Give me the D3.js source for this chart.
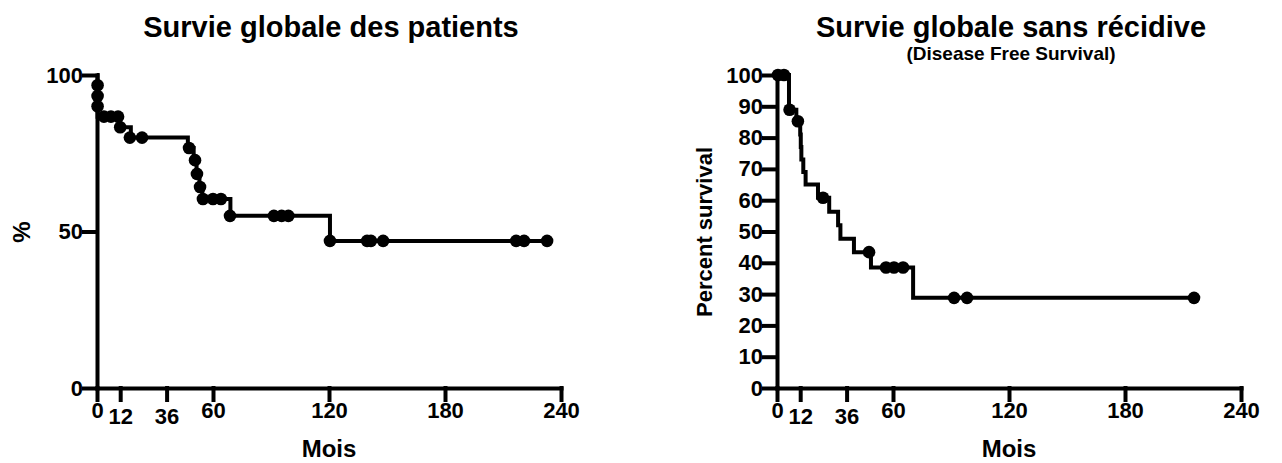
<!DOCTYPE html>
<html>
<head>
<meta charset="utf-8">
<script src="https://cdn.jsdelivr.net/npm/d3@7"></script>
<style>
body { margin: 0; background: #fff; }
text { font-family: "Liberation Sans", Arial, sans-serif; font-weight: bold; fill: #000; }
</style>
</head>
<body>
<div id="chart"></div>
<script>
// x ticks (months), shared by both panels
var monthTicks = [0, 12, 36, 60, 120, 180, 240];
var lowTicks = [12, 36]; // labels pushed down like in the original

// overall survival - step curve
var osStepT = [0, 0.3, 0.3, 0.3, 0.3, 12, 17.5, 47, 50, 51.5, 53, 54.5, 69, 120.5, 233];
var osStepS = [100, 96.7, 93.3, 90, 86.7, 83.3, 80, 76.7, 72.8, 68.4, 64.2, 60.4, 55, 47, 47];
// overall survival - symbols
var osMarkT = [0.3, 0.3, 0.3, 3.6, 7.2, 10.9, 12, 17, 23.3, 47.6, 50.7, 51.7, 53.3, 54.8, 60, 64.1, 68.8, 91.5, 95.5, 99, 120.5, 139.7, 141.7, 148, 216.8, 220.9, 232.8];
var osMarkS = [96.7, 93.3, 90, 86.7, 86.7, 86.7, 83.3, 80, 80, 76.7, 72.8, 68.4, 64.2, 60.4, 60.4, 60.4, 55, 55, 55, 55, 47, 47, 47, 47, 47, 47, 47];

// disease free survival - step curve
var dfsStepT = [0, 6.2, 10, 12, 12.3, 12.6, 13.6, 14.8, 21.2, 27, 31.6, 32.8, 39.8, 48.6, 70.4, 215.7];
var dfsStepS = [100, 88.9, 85.2, 81, 77, 73, 69, 65, 60.8, 56.3, 52, 47.7, 43.4, 38.5, 28.8, 28.8];
// disease free survival - symbols
var dfsMarkT = [0.5, 3.6, 6.5, 10.8, 23.8, 47.6, 56.4, 60.5, 65.2, 91.6, 98.3, 215.7];
var dfsMarkS = [100, 100, 88.9, 85.2, 60.8, 43.4, 38.5, 38.5, 38.5, 28.8, 28.8, 28.8];

var osYTicks = [0, 50, 100];
var dfsYTicks = [0, 10, 20, 30, 40, 50, 60, 70, 80, 90, 100];

var svg = d3.select('#chart')
 .append('svg')
 .attr('width', 1282)
 .attr('height', 463);

function drawPanel(p) {
 var x = d3.scaleLinear().domain([0, 240]).range([p.left, p.left + 464]);
 var y = d3.scaleLinear().domain([0, 100]).range([388, 75]);
 var g = svg.append('g');

 var steps = p.stepT.map(function(t, i) { return {t: t, s: p.stepS[i]}; });
 var marks = p.markT.map(function(t, i) { return {t: t, s: p.markS[i]}; });

 var xAxis = g.append('g')
  .attr('transform', 'translate(0,388)')
  .call(d3.axisBottom(x).tickValues(monthTicks).tickSize(12).tickPadding(2).tickSizeOuter(0));
 xAxis.selectAll('text')
  .attr('dy', function(d) { return lowTicks.indexOf(d) > -1 ? '0.98em' : '0.71em'; });

 g.append('g')
  .attr('transform', 'translate(' + p.left + ',0)')
  .call(d3.axisLeft(y).tickValues(p.yTicks).tickSize(13).tickPadding(1).tickSizeOuter(0));

 g.selectAll('.domain, .tick line')
  .attr('stroke', '#000')
  .attr('stroke-width', 4)
  .attr('stroke-linecap', 'square');
 g.selectAll('.tick text')
  .attr('font-size', '22px')
  .style('font-family', '"Liberation Sans", Arial, sans-serif')
  .style('font-weight', 'bold')
  .attr('fill', '#000');

 var line = d3.line()
  .x(function(d) { return x(d.t); })
  .y(function(d) { return y(d.s); })
  .curve(d3.curveStepAfter);

 g.append('path')
  .datum(steps)
  .attr('d', line)
  .attr('fill', 'none')
  .attr('stroke', '#000')
  .attr('stroke-width', 4);

 g.selectAll('circle')
  .data(marks)
  .enter().append('circle')
  .attr('cx', function(d) { return x(d.t); })
  .attr('cy', function(d) { return y(d.s); })
  .attr('r', 6.3)
  .attr('fill', '#000');

 var cx = p.left + 234;
 g.append('text')
  .attr('x', cx).attr('y', 37)
  .attr('text-anchor', 'middle')
  .attr('font-size', '29px')
  .text(p.title);
 if (p.subtitle) {
  g.append('text')
   .attr('x', cx).attr('y', 60)
   .attr('text-anchor', 'middle')
   .attr('font-size', '19px')
   .text(p.subtitle);
 }
 g.append('text')
  .attr('x', cx - 2).attr('y', 457)
  .attr('text-anchor', 'middle')
  .attr('font-size', '24px')
  .text('Mois');
 g.append('text')
  .attr('transform', 'translate(' + p.yLabelX + ',232) rotate(-90)')
  .attr('text-anchor', 'middle')
  .attr('font-size', p.yLabelSize)
  .text(p.yLabel);
}

drawPanel({left: 97, title: 'Survie globale des patients', yLabel: '%', yLabelX: 30, yLabelSize: '24px',
 stepT: osStepT, stepS: osStepS, markT: osMarkT, markS: osMarkS, yTicks: osYTicks});
drawPanel({left: 777, title: 'Survie globale sans récidive', subtitle: '(Disease Free Survival)',
 yLabel: 'Percent survival', yLabelX: 712, yLabelSize: '22px',
 stepT: dfsStepT, stepS: dfsStepS, markT: dfsMarkT, markS: dfsMarkS, yTicks: dfsYTicks});
</script>
</body>
</html>
